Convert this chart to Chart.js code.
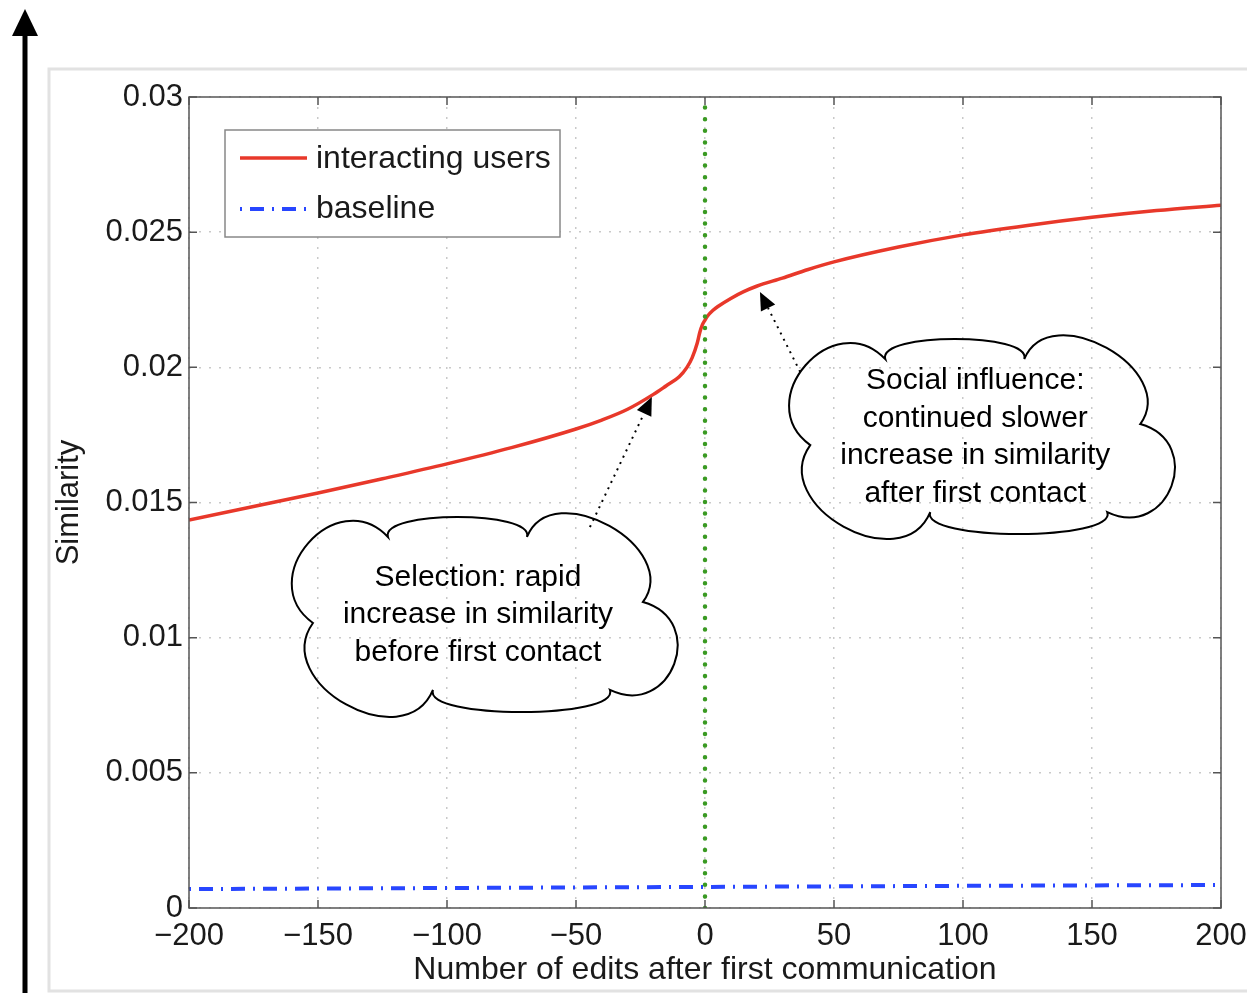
<!DOCTYPE html>
<html>
<head>
<meta charset="utf-8">
<script src="https://cdn.jsdelivr.net/npm/chart.js@4"></script>
<style>
html, body { margin: 0; padding: 0; background: #fff; }
canvas { display: block; }
</style>
</head>
<body>
<canvas id="simChart" width="1247" height="993"></canvas>
<script>
// data
const edits      = [-200, -175, -150, -125, -100, -75, -50, -40, -30, -20, -15, -10, -7, -5, -3, -2, -1, 0, 1, 3, 5, 10, 15, 20, 30, 40, 50, 75, 100, 125, 150, 175, 200];
const similarity = [0.01435, 0.01485, 0.01535, 0.01588, 0.01643, 0.01703, 0.01772, 0.01805, 0.01845, 0.0190, 0.01932, 0.01965, 0.0200, 0.02035, 0.0209, 0.0213, 0.02158, 0.02175, 0.0219, 0.0221, 0.02225, 0.02255, 0.0228, 0.0230, 0.0233, 0.02362, 0.0239, 0.02445, 0.0249, 0.02525, 0.02555, 0.0258, 0.0260];
const baseEdits  = [-200, -100, 0, 100, 200];
const baseSim    = [0.00070, 0.00074, 0.00078, 0.00082, 0.00085];
const contactAt  = 0;

const seriesNames = ["interacting users", "baseline"];
const xTicks = [-200, -150, -100, -50, 0, 50, 100, 150, 200];
const yTicks = [0, 0.005, 0.01, 0.015, 0.02, 0.025, 0.03];
const xTitle = "Number of edits after first communication";
const yTitle = "Similarity";

const noteText1 = ["Selection: rapid", "increase in similarity", "before first contact"];
const noteText2 = ["Social influence:", "continued slower", "increase in similarity", "after first contact"];

const RED = "#e8382a";
const BLUE = "#2846ff";
const GREEN = "#3a9a22";
const FONT = "'Liberation Sans', Arial, Helvetica, sans-serif";

// callouts anchored in data coordinates
const notes = [
    { x: -88, y: 0.01084, lines: noteText1, from: [-44.6, 0.01409], to: [-20.6, 0.0189] },
    { x: 104.75, y: 0.01742, lines: noteText2, from: [36.9, 0.01983], to: [21.3, 0.02279] }
];

// cloud outline: cusp points around the centre and how far each lobe bulges
const cusps = [[-165, 8], [-90, -78], [49, -78], [165, -13], [132, 75], [-45, 75]];
const bulges = [56, 20, 50, 51, 22, 55];

function drawCloud(ctx, cx, cy) {
    ctx.beginPath();
    for (let i = 0; i < cusps.length; i++) {
        let p0 = cusps[i], p1 = cusps[(i + 1) % cusps.length];
        let dx = p1[0] - p0[0], dy = p1[1] - p0[1];
        let L = Math.hypot(dx, dy);
        let tx = dx / L, ty = dy / L;
        let nx = ty, ny = -tx;
        let mx = (p0[0] + p1[0]) / 2, my = (p0[1] + p1[1]) / 2;
        if (nx * mx + ny * my < 0) { nx = -nx; ny = -ny; }
        let b = bulges[i] / 0.75, s = 0.06 * L;
        if (i === 0) ctx.moveTo(cx + p0[0], cy + p0[1]);
        ctx.bezierCurveTo(
            cx + p0[0] + nx * b - tx * s, cy + p0[1] + ny * b - ty * s,
            cx + p1[0] + nx * b + tx * s, cy + p1[1] + ny * b + ty * s,
            cx + p1[0], cy + p1[1]);
    }
    ctx.closePath();
    ctx.lineWidth = 2;
    ctx.lineJoin = "miter";
    ctx.strokeStyle = "#000";
    ctx.stroke();
}

function drawArrow(ctx, x0, y0, x1, y1) {
    let ang = Math.atan2(y1 - y0, x1 - x0);
    let head = 18, half = 8;
    let bx = x1 - Math.cos(ang) * head, by = y1 - Math.sin(ang) * head;
    ctx.save();
    ctx.strokeStyle = "#000";
    ctx.lineWidth = 2;
    ctx.setLineDash([2, 5]);
    ctx.beginPath();
    ctx.moveTo(x0, y0);
    ctx.lineTo(bx, by);
    ctx.stroke();
    ctx.setLineDash([]);
    ctx.fillStyle = "#000";
    ctx.beginPath();
    ctx.moveTo(x1, y1);
    ctx.lineTo(bx - Math.sin(ang) * half, by + Math.cos(ang) * half);
    ctx.lineTo(bx + Math.sin(ang) * half, by - Math.cos(ang) * half);
    ctx.closePath();
    ctx.fill();
    ctx.restore();
}

const decor = {
    id: "decor",
    beforeDraw(chart) {
        const ctx = chart.ctx;
        ctx.save();
        ctx.fillStyle = "#fff";
        ctx.fillRect(0, 0, chart.width, chart.height);
        // light frame around the figure
        ctx.strokeStyle = "#e2e2e2";
        ctx.lineWidth = 3;
        ctx.beginPath();
        ctx.moveTo(chart.width, 69);
        ctx.lineTo(49, 69);
        ctx.lineTo(49, 991);
        ctx.lineTo(chart.width, 991);
        ctx.stroke();
        // big arrow on the left
        ctx.strokeStyle = "#000";
        ctx.lineWidth = 5;
        ctx.beginPath();
        ctx.moveTo(25, chart.height);
        ctx.lineTo(25, 30);
        ctx.stroke();
        ctx.fillStyle = "#000";
        ctx.beginPath();
        ctx.moveTo(25, 9);
        ctx.lineTo(12, 36);
        ctx.lineTo(38, 36);
        ctx.closePath();
        ctx.fill();
        ctx.restore();
    },
    afterDatasetsDraw(chart) {
        const ctx = chart.ctx;
        const a = chart.chartArea;
        const xs = chart.scales.x, ys = chart.scales.y;
        ctx.save();
        ctx.strokeStyle = "#555";
        ctx.lineWidth = 1.5;
        ctx.strokeRect(a.left, a.top, a.right - a.left, a.bottom - a.top);
        ctx.beginPath();
        xTicks.forEach(v => {
            let px = xs.getPixelForValue(v);
            ctx.moveTo(px, a.bottom); ctx.lineTo(px, a.bottom - 8);
            ctx.moveTo(px, a.top); ctx.lineTo(px, a.top + 8);
        });
        yTicks.forEach(v => {
            let py = ys.getPixelForValue(v);
            ctx.moveTo(a.left, py); ctx.lineTo(a.left + 8, py);
            ctx.moveTo(a.right, py); ctx.lineTo(a.right - 8, py);
        });
        ctx.stroke();

        // legend box inside the axes
        let lx = a.left + 36, ly = a.top + 33;
        ctx.fillStyle = "#fff";
        ctx.fillRect(lx, ly, 335, 107);
        ctx.strokeStyle = "#888";
        ctx.lineWidth = 1.5;
        ctx.strokeRect(lx, ly, 335, 107);
        ctx.lineWidth = 3.5;
        ctx.strokeStyle = RED;
        ctx.beginPath();
        ctx.moveTo(lx + 15, ly + 28); ctx.lineTo(lx + 82, ly + 28);
        ctx.stroke();
        ctx.strokeStyle = BLUE;
        ctx.lineWidth = 4;
        ctx.setLineDash([2, 8, 14, 8]);
        ctx.beginPath();
        ctx.moveTo(lx + 15, ly + 79); ctx.lineTo(lx + 82, ly + 79);
        ctx.stroke();
        ctx.setLineDash([]);
        ctx.fillStyle = "#1a1a1a";
        ctx.font = "32px " + FONT;
        ctx.textAlign = "left";
        ctx.textBaseline = "middle";
        ctx.fillText(seriesNames[0], lx + 91, ly + 29);
        ctx.fillText(seriesNames[1], lx + 91, ly + 79);
        ctx.restore();
    },
    afterDraw(chart) {
        const ctx = chart.ctx;
        const xs = chart.scales.x, ys = chart.scales.y;
        ctx.save();
        notes.forEach(n => {
            let cx = xs.getPixelForValue(n.x), cy = ys.getPixelForValue(n.y);
            drawCloud(ctx, cx, cy);
            ctx.fillStyle = "#000";
            ctx.font = "30px " + FONT;
            ctx.textAlign = "center";
            ctx.textBaseline = "middle";
            let lh = 37.5;
            let y0 = cy - (n.lines.length - 1) * lh / 2;
            n.lines.forEach((t, i) => ctx.fillText(t, cx, y0 + i * lh));
            drawArrow(ctx,
                xs.getPixelForValue(n.from[0]), ys.getPixelForValue(n.from[1]),
                xs.getPixelForValue(n.to[0]), ys.getPixelForValue(n.to[1]));
        });
        ctx.restore();
    }
};

Chart.defaults.font.family = FONT;
Chart.defaults.color = "#1a1a1a";

const ctx = document.getElementById("simChart").getContext("2d");

new Chart(ctx, {
    type: "line",
    data: {
        datasets: [
            {
                label: "first contact",
                data: [{ x: contactAt, y: yTicks[0] }, { x: contactAt, y: yTicks[yTicks.length - 1] }],
                borderColor: GREEN,
                borderWidth: 4.5,
                borderDash: [0, 11.6],
                borderCapStyle: "round",
                pointRadius: 0,
                order: 0
            },
            {
                label: seriesNames[0],
                data: edits.map((x, i) => ({ x: x, y: similarity[i] })),
                borderColor: RED,
                borderWidth: 3.5,
                pointRadius: 0,
                cubicInterpolationMode: "monotone",
                order: 1
            },
            {
                label: seriesNames[1],
                data: baseEdits.map((x, i) => ({ x: x, y: baseSim[i] })),
                borderColor: BLUE,
                borderWidth: 4,
                borderDash: [2, 8, 14, 8],
                pointRadius: 0,
                order: 2
            }
        ]
    },
    options: {
        responsive: false,
        animation: false,
        devicePixelRatio: 1,
        layout: { padding: { left: 0, top: 97, right: 26, bottom: 0 } },
        plugins: { legend: { display: false }, tooltip: { enabled: false } },
        scales: {
            x: {
                type: "linear",
                min: -200,
                max: 200,
                afterBuildTicks: s => { s.ticks = xTicks.map(v => ({ value: v })); },
                afterFit: s => { s.height = 85; s.paddingLeft = 0; s.paddingRight = 0; },
                ticks: {
                    font: { size: 31 },
                    padding: 10,
                    maxRotation: 0,
                    callback: v => v < 0 ? "\u2212" + Math.abs(v) : String(v)
                },
                grid: { color: "#c9c9c9", lineWidth: 1.5, drawTicks: false },
                border: { display: false, dash: [2, 8] },
                title: { display: true, text: xTitle, font: { size: 32 }, padding: { top: 0, bottom: 4 } }
            },
            y: {
                type: "linear",
                min: 0,
                max: 0.03,
                afterBuildTicks: s => { s.ticks = yTicks.map(v => ({ value: v })); },
                afterFit: s => { s.width = 189; s.paddingTop = 0; s.paddingBottom = 0; },
                ticks: {
                    font: { size: 31 },
                    padding: 6,
                    callback: v => String(Number(v.toFixed(3)))
                },
                grid: { color: "#c9c9c9", lineWidth: 1.5, drawTicks: false },
                border: { display: false, dash: [2, 8] },
                title: { display: true, text: yTitle, font: { size: 31 }, padding: { top: 51, bottom: 0 } }
            }
        }
    },
    plugins: [decor]
});
</script>
</body>
</html>
